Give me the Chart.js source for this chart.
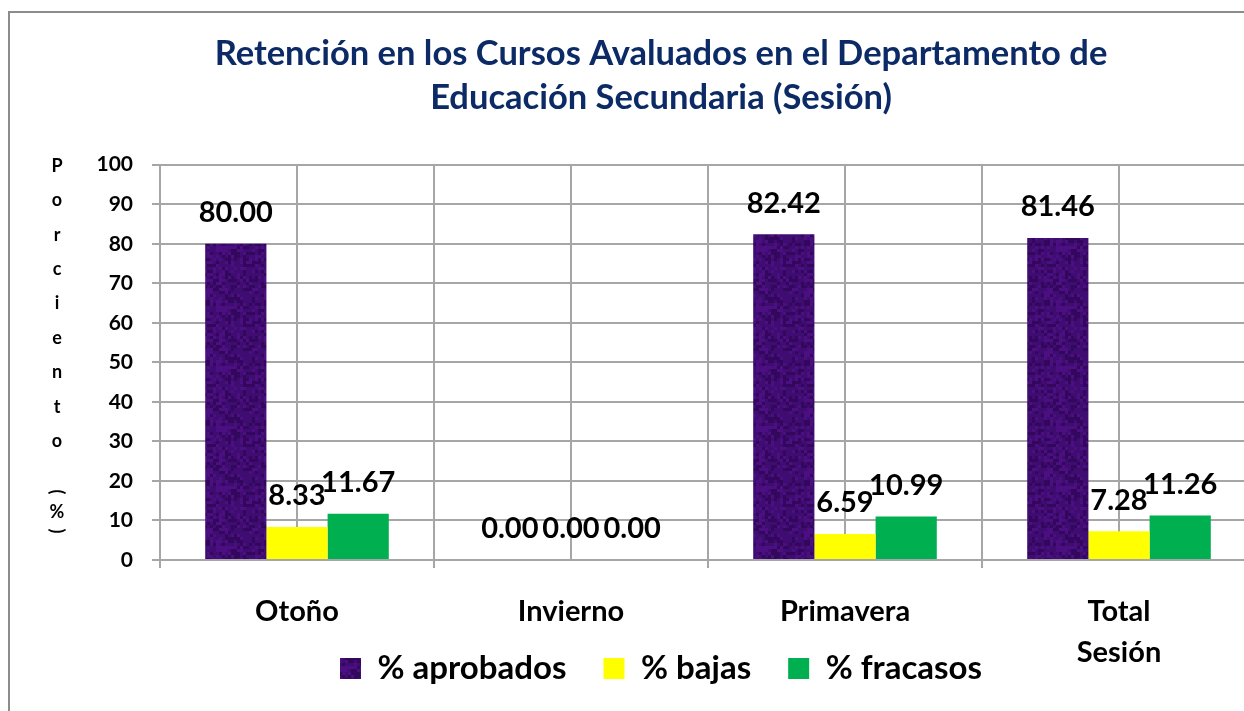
<!DOCTYPE html>
<html>
<head>
<meta charset="utf-8">
<script src="https://cdn.jsdelivr.net/npm/chart.js@4.4.1/dist/chart.umd.min.js"></script>
<style>
  html, body { margin: 0; padding: 0; background: #fff; overflow: hidden; }
  #wrap { position: relative; width: 1244px; height: 711px; overflow: hidden; }
  #chart { position: absolute; left: 0; top: 0; }
  #frame { position: absolute; left: 8px; top: 11px; width: 1300px; height: 760px;
           border-left: 2px solid #8c8c8c; border-top: 2px solid #8c8c8c; pointer-events: none; }
</style>
</head>
<body>
<div id="wrap">
  <canvas id="chart" width="1300" height="711"></canvas>
  <div id="frame"></div>
</div>
<script>
"use strict";

// data
var sesiones = ["Otoño", "Invierno", "Primavera", ["Total", "Sesión"]];
var aprobados = [80.00, 0.00, 82.42, 81.46];
var bajas = [8.33, 0.00, 6.59, 7.28];
var fracasos = [11.67, 0.00, 10.99, 11.26];
var ticksY = [0, 10, 20, 30, 40, 50, 60, 70, 80, 90, 100];
var ejeY = ["P", "o", "r", "c", "i", "e", "n", "t", "o"];

var FONT = "Lato";
var ctx = document.getElementById("chart").getContext("2d");

/*  mottled purple fill for the "aprobados" bars  */
function purpleFill() {
  var c = document.createElement("canvas");
  c.width = 60; c.height = 60;
  var g = c.getContext("2d");
  g.fillStyle = "#3f0c72";
  g.fillRect(0, 0, 60, 60);
  for (var y = 0; y < 60; y += 3) {
    for (var x = 0; x < 60; x += 3) {
      var n = Math.sin(x * 12.9898 + y * 78.233) * 43758.5453;
      n = n - Math.floor(n);
      if (n > 0.7) g.fillStyle = "rgba(98,24,160,0.35)";
      else if (n < 0.3) g.fillStyle = "rgba(28,4,52,0.35)";
      else continue;
      g.fillRect(x, y, 3, 3);
    }
  }
  return ctx.createPattern(c, "repeat");
}

/*  value labels above each bar  */
var valueLabels = {
  id: "valueLabels",
  afterDatasetsDraw: function (chart) {
    var c = chart.ctx;
    c.save();
    c.font = "bold 29px " + FONT;
    c.fillStyle = "#000";
    c.textAlign = "center";
    c.textBaseline = "middle";
    chart.data.datasets.forEach(function (ds, i) {
      chart.getDatasetMeta(i).data.forEach(function (bar, j) {
        c.fillText(ds.data[j].toFixed(2), bar.x, bar.y - 31);
      });
    });
    c.restore();
  }
};

/*  stacked "Porciento (%)" axis caption  */
var stackedTitle = {
  id: "stackedTitle",
  afterDraw: function (chart) {
    var c = chart.ctx;
    c.save();
    c.font = "bold 18px " + FONT;
    c.fillStyle = "#000";
    c.textAlign = "center";
    c.textBaseline = "middle";
    ejeY.forEach(function (ch, i) {
      c.fillText(ch, 57, 166 + i * 34.4);
    });
    c.fillText("%", 57, 512);
    [["(", 492], [")", 531]].forEach(function (p) {
      c.save();
      c.translate(57, p[1]);
      c.rotate(Math.PI / 2);
      c.fillText(p[0], 0, 0);
      c.restore();
    });
    c.restore();
  }
};

var gridGray = "#a6a6a6";

new Chart(ctx, {
  type: "bar",
  data: {
    labels: sesiones,
    datasets: [{
      label: "% aprobados",
      data: aprobados,
      backgroundColor: purpleFill()
    }, {
      label: "% bajas",
      data: bajas,
      backgroundColor: "#ffff00"
    }, {
      label: "% fracasos",
      data: fracasos,
      backgroundColor: "#00b050"
    }]
  },
  options: {
    responsive: false,
    animation: false,
    datasets: {
      bar: { barPercentage: 1, categoryPercentage: 0.67 }
    },
    layout: { padding: { left: 66, right: 44, top: 0, bottom: 16 } },
    plugins: {
      title: {
        display: true,
        text: ["Retención en los Cursos Avaluados en el Departamento de",
               "Educación Secundaria (Sesión)"],
        color: "#0c2a66",
        font: { family: FONT, size: 34.5, weight: "bold", lineHeight: 1.3 },
        padding: { top: 31, bottom: 44 }
      },
      legend: {
        position: "bottom",
        labels: {
          color: "#000",
          font: { family: FONT, size: 33, weight: "bold" },
          boxWidth: 21,
          boxHeight: 21,
          padding: 37
        }
      },
      tooltip: { enabled: false }
    },
    scales: {
      x: {
        offset: true,
        weight: 1,
        grid: { offset: true, color: gridGray, lineWidth: 2, tickLength: 8, tickColor: gridGray },
        border: { color: gridGray, width: 2 },
        ticks: {
          color: "#000",
          // mirrored with a negative padding: labels still sit below the axis,
          // but are not clipped to the (short) axis box, so the second line of
          // "Total Sesión" may reach down beside the legend
          mirror: true,
          padding: -72,
          maxRotation: 0,
          autoSkip: false,
          font: { family: FONT, size: 29, weight: "bold", lineHeight: 1.42 }
        },
        afterFit: function (scale) { scale.height = 55; }
      },
      xMid: {
        type: "category",
        position: "bottom",
        labels: sesiones,
        offset: true,
        weight: 0,
        grid: { offset: false, color: gridGray, lineWidth: 2, drawTicks: false },
        border: { display: false },
        ticks: { display: false }
      },
      y: {
        min: 0,
        max: 100,
        afterBuildTicks: function (scale) {
          scale.ticks = ticksY.map(function (v) { return { value: v }; });
        },
        grid: { color: gridGray, lineWidth: 2, tickLength: 8, tickColor: gridGray },
        border: { color: gridGray, width: 2 },
        ticks: {
          color: "#000",
          padding: 19,
          font: { family: FONT, size: 21, weight: "bold" }
        },
        afterFit: function (scale) { scale.width = 94; }
      }
    }
  },
  plugins: [valueLabels, stackedTitle]
});
</script>
</body>
</html>
